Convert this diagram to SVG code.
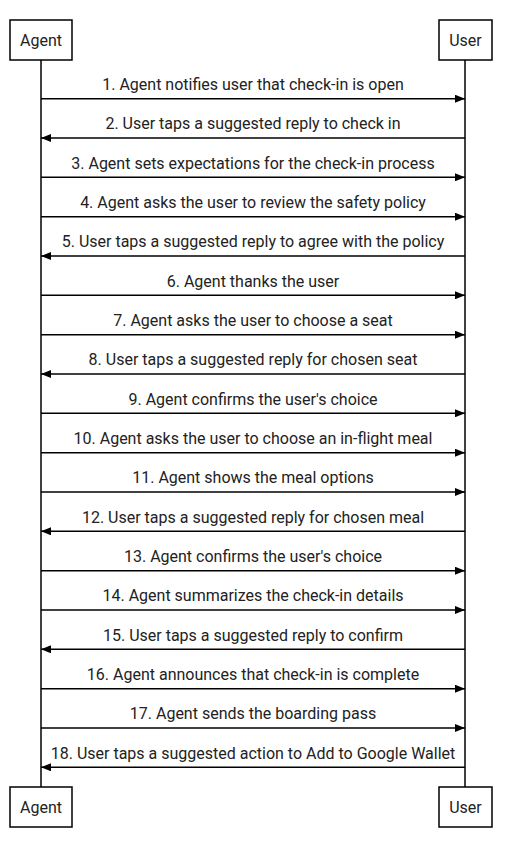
<svg xmlns="http://www.w3.org/2000/svg" width="521" height="846" viewBox="0 0 521 846">
<style>
.box{fill:#fff;stroke:#000;stroke-width:1.5}
.life{stroke:#000;stroke-width:1.5}
.msg{stroke:#000;stroke-width:1.5;fill:none}
text{font-family:Roboto,"Liberation Sans",sans-serif;font-size:16px;fill:#222}
.lbl{text-anchor:middle}
</style>
<defs>
<marker id="ah" viewBox="0 0 10 8" refX="10" refY="4" markerWidth="10" markerHeight="8" markerUnits="userSpaceOnUse" orient="auto">
<path d="M0,0 L10,4 L0,8 z" fill="#000"/>
</marker>
</defs>
<g id="lifelines">
<line class="life" x1="41" y1="60" x2="41" y2="787"/>
<line class="life" x1="465" y1="60" x2="465" y2="787"/>
</g>
<g id="agent-top"><rect class="box" x="10" y="20" width="62" height="40"/><text class="lbl" x="41" y="45.5">Agent</text></g>
<g id="user-top"><rect class="box" x="439" y="20" width="53" height="40"/><text class="lbl" x="465.5" y="45.5">User</text></g>
<g id="agent-bottom"><rect class="box" x="10" y="787" width="62" height="40"/><text class="lbl" x="41" y="812.5">Agent</text></g>
<g id="user-bottom"><rect class="box" x="439" y="787" width="53" height="40"/><text class="lbl" x="465.5" y="812.5">User</text></g>
<g id="connectors">
<line class="msg" x1="41" y1="98.7" x2="465" y2="98.7" marker-end="url(#ah)"/>
<line class="msg" x1="465" y1="138" x2="41" y2="138" marker-end="url(#ah)"/>
<line class="msg" x1="41" y1="177.3" x2="465" y2="177.3" marker-end="url(#ah)"/>
<line class="msg" x1="41" y1="216.7" x2="465" y2="216.7" marker-end="url(#ah)"/>
<line class="msg" x1="465" y1="256" x2="41" y2="256" marker-end="url(#ah)"/>
<line class="msg" x1="41" y1="295.3" x2="465" y2="295.3" marker-end="url(#ah)"/>
<line class="msg" x1="41" y1="334.7" x2="465" y2="334.7" marker-end="url(#ah)"/>
<line class="msg" x1="465" y1="374" x2="41" y2="374" marker-end="url(#ah)"/>
<line class="msg" x1="41" y1="413.3" x2="465" y2="413.3" marker-end="url(#ah)"/>
<line class="msg" x1="41" y1="452.7" x2="465" y2="452.7" marker-end="url(#ah)"/>
<line class="msg" x1="41" y1="492" x2="465" y2="492" marker-end="url(#ah)"/>
<line class="msg" x1="465" y1="531.3" x2="41" y2="531.3" marker-end="url(#ah)"/>
<line class="msg" x1="41" y1="570.7" x2="465" y2="570.7" marker-end="url(#ah)"/>
<line class="msg" x1="41" y1="610" x2="465" y2="610" marker-end="url(#ah)"/>
<line class="msg" x1="465" y1="649.3" x2="41" y2="649.3" marker-end="url(#ah)"/>
<line class="msg" x1="41" y1="688.7" x2="465" y2="688.7" marker-end="url(#ah)"/>
<line class="msg" x1="41" y1="728" x2="465" y2="728" marker-end="url(#ah)"/>
<line class="msg" x1="465" y1="767.3" x2="41" y2="767.3" marker-end="url(#ah)"/>
</g>
<g id="labels">
<text class="lbl" x="253" y="90">1. Agent notifies user that check-in is open</text>
<text class="lbl" x="253" y="129.3">2. User taps a suggested reply to check in</text>
<text class="lbl" x="253" y="168.6">3. Agent sets expectations for the check-in process</text>
<text class="lbl" x="253" y="208">4. Agent asks the user to review the safety policy</text>
<text class="lbl" x="253" y="247.3">5. User taps a suggested reply to agree with the policy</text>
<text class="lbl" x="253" y="286.6">6. Agent thanks the user</text>
<text class="lbl" x="253" y="326">7. Agent asks the user to choose a seat</text>
<text class="lbl" x="253" y="365.3">8. User taps a suggested reply for chosen seat</text>
<text class="lbl" x="253" y="404.6">9. Agent confirms the user's choice</text>
<text class="lbl" x="253" y="444">10. Agent asks the user to choose an in-flight meal</text>
<text class="lbl" x="253" y="483.3">11. Agent shows the meal options</text>
<text class="lbl" x="253" y="522.6">12. User taps a suggested reply for chosen meal</text>
<text class="lbl" x="253" y="562">13. Agent confirms the user's choice</text>
<text class="lbl" x="253" y="601.3">14. Agent summarizes the check-in details</text>
<text class="lbl" x="253" y="640.6">15. User taps a suggested reply to confirm</text>
<text class="lbl" x="253" y="680">16. Agent announces that check-in is complete</text>
<text class="lbl" x="253" y="719.3">17. Agent sends the boarding pass</text>
<text class="lbl" x="253" y="758.6">18. User taps a suggested action to Add to Google Wallet</text>
</g>
</svg>
